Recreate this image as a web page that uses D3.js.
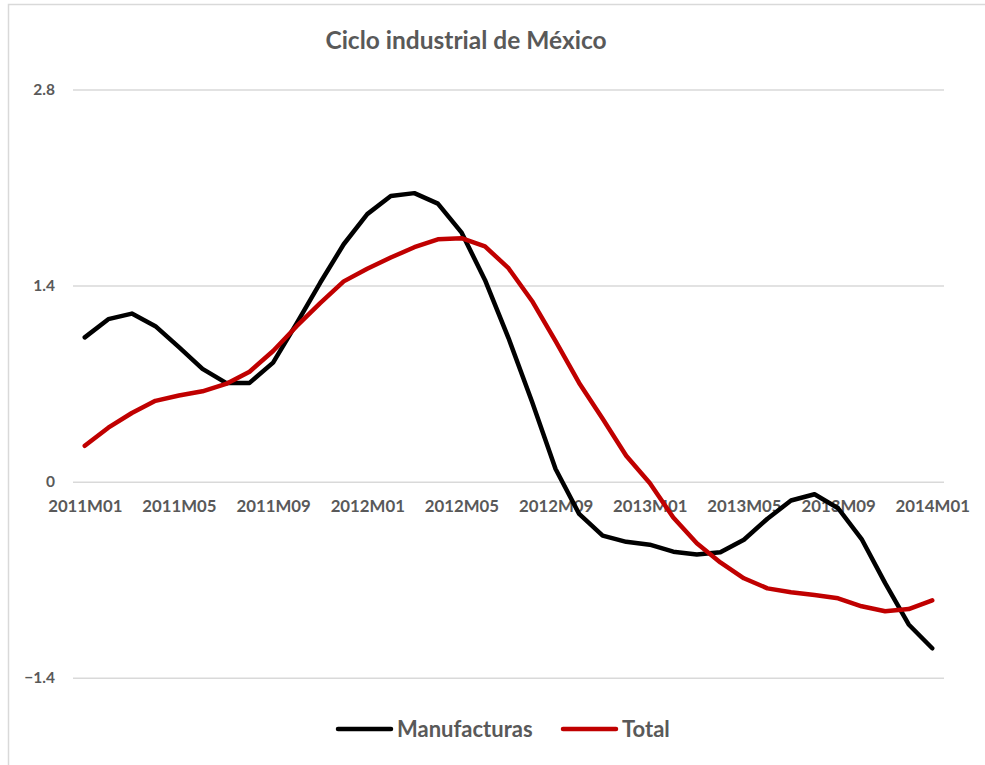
<!DOCTYPE html>
<html>
<head>
<meta charset="utf-8">
<script src="https://cdn.jsdelivr.net/npm/d3@7"></script>
<style>
  html, body { margin: 0; padding: 0; background: #fff; }
  svg { display: block; }
  text { font-family: Lato, "Open Sans", sans-serif; font-weight: bold; fill: #595959; }
</style>
</head>
<body>
<svg id="chart" width="985" height="765"></svg>
<script>
// Monthly periods, 2011M01 .. 2014M01
const months = [
  "2011M01","2011M02","2011M03","2011M04","2011M05","2011M06","2011M07","2011M08","2011M09","2011M10","2011M11","2011M12",
  "2012M01","2012M02","2012M03","2012M04","2012M05","2012M06","2012M07","2012M08","2012M09","2012M10","2012M11","2012M12",
  "2013M01","2013M02","2013M03","2013M04","2013M05","2013M06","2013M07","2013M08","2013M09","2013M10","2013M11","2013M12",
  "2014M01"
];

// Labelled periods on the category axis
const tickLabels = ["2011M01","2011M05","2011M09","2012M01","2012M05","2012M09","2013M01","2013M05","2013M09","2014M01"];

// Value axis ticks
const yTicks = [-1.4, 0, 1.4, 2.8];

// Cycle component, manufacturing
const manufacturas = [
  1.03, 1.16, 1.20, 1.11, 0.96, 0.805, 0.705, 0.705, 0.85, 1.13, 1.42, 1.695,
  1.91, 2.04, 2.06, 1.985, 1.78, 1.44, 1.025, 0.57, 0.09, -0.23, -0.385, -0.43,
  -0.45, -0.50, -0.52, -0.505, -0.415, -0.265, -0.135, -0.09, -0.19, -0.41, -0.725, -1.02,
  -1.19
];

// Cycle component, total industry
const total = [
  0.256, 0.385, 0.49, 0.577, 0.615, 0.645, 0.698, 0.785, 0.933, 1.11, 1.275, 1.43,
  1.52, 1.60, 1.674, 1.73, 1.738, 1.68, 1.524, 1.29, 1.004, 0.705, 0.449, 0.185,
  -0.01, -0.256, -0.44, -0.577, -0.69, -0.762, -0.79, -0.81, -0.833, -0.89, -0.926, -0.91,
  -0.848
];

const seriesNames = ["Manufacturas", "Total"];
const seriesColors = ["#000000", "#C00000"];

const svg = d3.select("#chart");

// Outer frame
svg.append("rect")
  .attr("x", 8.5).attr("y", 4.5)
  .attr("width", 990).attr("height", 770)
  .attr("fill", "#fff")
  .attr("stroke", "#d9d9d9")
  .attr("stroke-width", 1.5);

const plot = { left: 73, right: 944, top: 89.5, bottom: 677.7 };

const x = d3.scalePoint()
  .domain(months)
  .range([plot.left, plot.right])
  .padding(0.5);

const y = d3.scaleLinear()
  .domain([-1.4, 2.8])
  .range([plot.bottom, plot.top]);

// Title
svg.append("text")
  .attr("x", 466).attr("y", 49)
  .attr("text-anchor", "middle")
  .style("font-size", "24.5px")
  .text("Ciclo industrial de México");

// Horizontal gridlines and value labels
const yAxis = d3.axisLeft(y)
  .tickValues(yTicks)
  .tickSize(-(plot.right - plot.left))
  .tickPadding(18)
  .tickFormat(d => d === 0 ? "0" : d3.format(".1f")(d));

const gy = svg.append("g")
  .attr("transform", `translate(${plot.left},0)`)
  .call(yAxis);
gy.select(".domain").remove();
gy.selectAll(".tick line").attr("stroke", "#d9d9d9").attr("stroke-width", 1.5);
gy.selectAll(".tick text")
  .style("font-size", "15.5px")
  .style("font-family", "Lato, 'Open Sans', sans-serif")
  .style("font-weight", "bold")
  .attr("fill", "#595959");

// Category labels sitting just under the zero line
const xAxis = d3.axisBottom(x)
  .tickValues(tickLabels)
  .tickSize(0)
  .tickPadding(18);

const gx = svg.append("g")
  .attr("transform", `translate(0,${y(0)})`)
  .call(xAxis);
gx.select(".domain").remove();
gx.selectAll(".tick text")
  .style("font-size", "16.8px")
  .style("font-family", "Lato, 'Open Sans', sans-serif")
  .style("font-weight", "bold")
  .attr("fill", "#595959");

// Series lines
const line = d3.line()
  .x((d, i) => x(months[i]))
  .y(d => y(d));

[manufacturas, total].forEach((vals, k) => {
  svg.append("path")
    .datum(vals)
    .attr("d", line)
    .attr("fill", "none")
    .attr("stroke", seriesColors[k])
    .attr("stroke-width", 4.5)
    .attr("stroke-linejoin", "round")
    .attr("stroke-linecap", "round");
});

// Legend
const legendItems = [
  { name: seriesNames[0], color: seriesColors[0], x0: 338 },
  { name: seriesNames[1], color: seriesColors[1], x0: 563 }
];
const legendY = 729;
legendItems.forEach(it => {
  svg.append("line")
    .attr("x1", it.x0).attr("x2", it.x0 + 53)
    .attr("y1", legendY).attr("y2", legendY)
    .attr("stroke", it.color)
    .attr("stroke-width", 4.5)
    .attr("stroke-linecap", "round");
  svg.append("text")
    .attr("x", it.x0 + 59).attr("y", legendY + 7.5)
    .style("font-size", "22px")
    .text(it.name);
});
</script>
</body>
</html>
